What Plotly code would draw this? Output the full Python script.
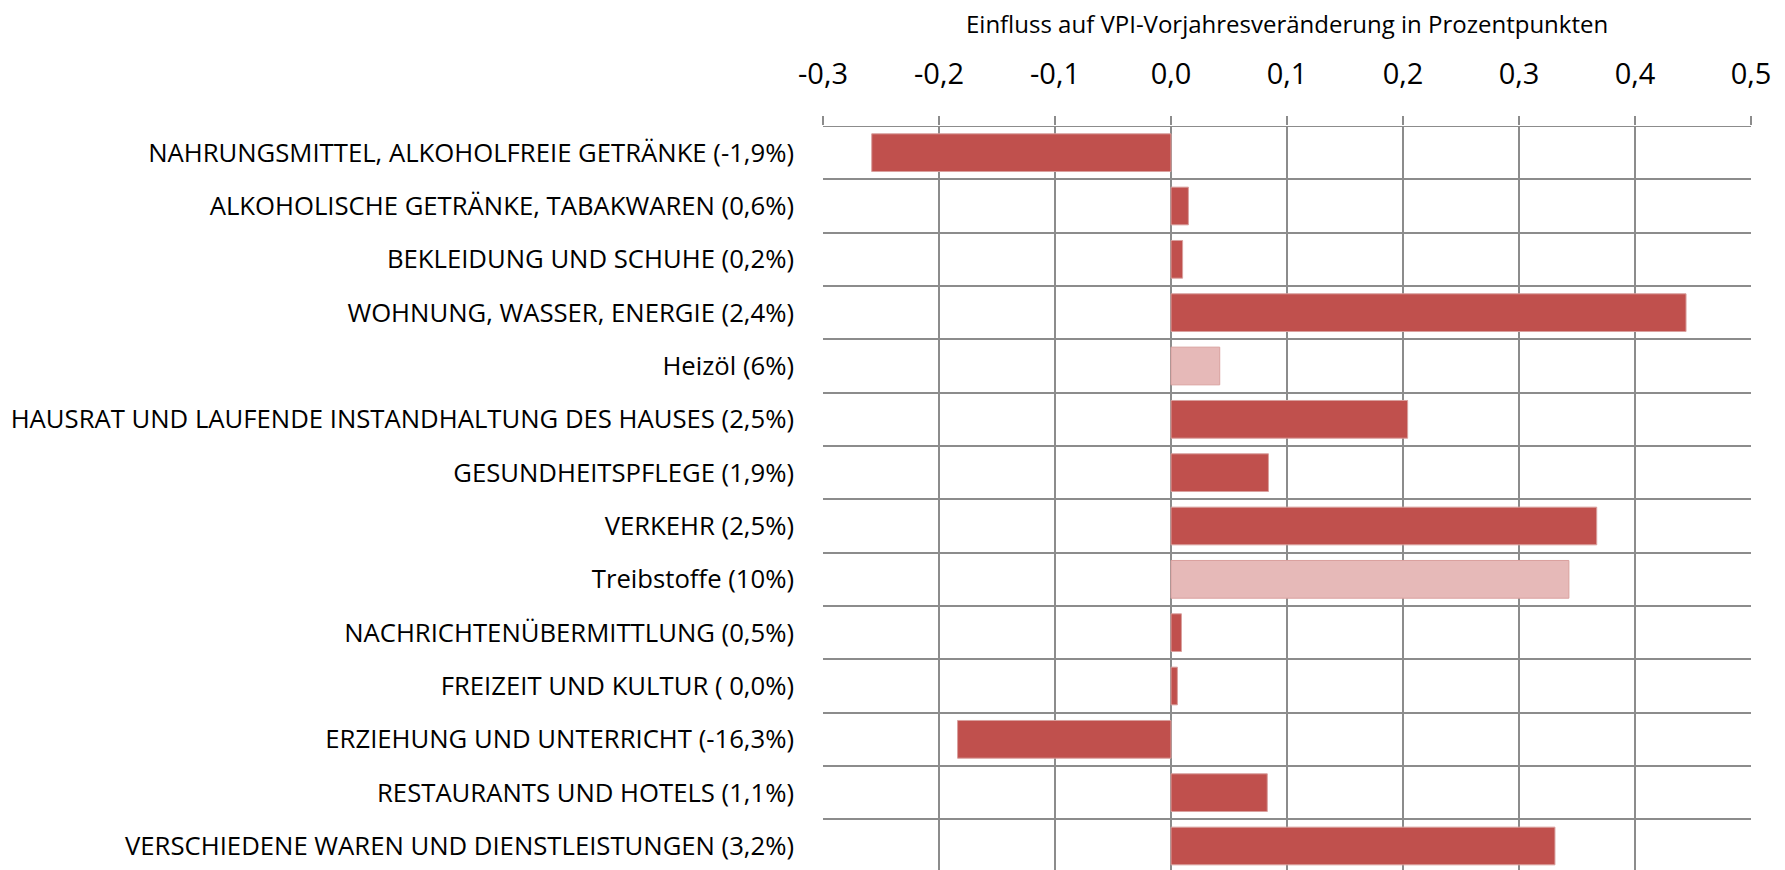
import plotly.graph_objects as go

categories = [
    "NAHRUNGSMITTEL, ALKOHOLFREIE GETRÄNKE (-1,9%)",
    "ALKOHOLISCHE GETRÄNKE, TABAKWAREN (0,6%)",
    "BEKLEIDUNG UND SCHUHE (0,2%)",
    "WOHNUNG, WASSER, ENERGIE (2,4%)",
    "Heizöl (6%)",
    "HAUSRAT UND LAUFENDE INSTANDHALTUNG DES HAUSES (2,5%)",
    "GESUNDHEITSPFLEGE (1,9%)",
    "VERKEHR (2,5%)",
    "Treibstoffe (10%)",
    "NACHRICHTENÜBERMITTLUNG (0,5%)",
    "FREIZEIT UND KULTUR ( 0,0%)",
    "ERZIEHUNG UND UNTERRICHT (-16,3%)",
    "RESTAURANTS UND HOTELS (1,1%)",
    "VERSCHIEDENE WAREN UND DIENSTLEISTUNGEN (3,2%)",
]
values = [-0.258, 0.015, 0.010, 0.444, 0.042, 0.204, 0.084, 0.367, 0.343,
          0.009, 0.0055, -0.184, 0.083, 0.331]
is_sub = [False, False, False, False, True, False, False, False, True,
          False, False, False, False, False]

tick_vals = [-0.3, -0.2, -0.1, 0.0, 0.1, 0.2, 0.3, 0.4, 0.5]
tick_text = ["-0,3", "-0,2", "-0,1", "0,0", "0,1", "0,2", "0,3", "0,4", "0,5"]
x_title = "Einfluss auf VPI-Vorjahresveränderung in Prozentpunkten"

MAIN = "#C0504D"
LIGHT = "#E6B9B8"
colors = [LIGHT if s else MAIN for s in is_sub]
FONT = "Open Sans"

fig = go.Figure(go.Bar(
    x=values, y=categories, orientation="h",
    marker=dict(color=colors, line=dict(color="#D9A09E", width=1)),
    width=0.707,
))

fig.update_layout(
    width=1785, height=870,
    margin=dict(l=823, r=34, t=126, b=0, autoexpand=False),
    paper_bgcolor="white", plot_bgcolor="white",
    showlegend=False,
    font=dict(family=FONT, color="black"),
    bargap=0.29,
)
fig.add_annotation(
    text=x_title, x=0.5, xref="paper", y=(870 - 23) / 744, yref="paper",
    xanchor="center", yanchor="middle", showarrow=False,
    font=dict(size=24, family=FONT, color="black"),
)
fig.update_xaxes(
    side="top", range=[-0.3, 0.5], tickvals=tick_vals, ticktext=tick_text,
    showgrid=True, gridcolor="#8C8C8C", gridwidth=2,
    ticks="outside", ticklen=9, tickwidth=2, tickcolor="#8C8C8C",
    tickfont=dict(size=29, family=FONT, color="black"),
    ticklabelstandoff=20, automargin=False,
    zeroline=False, showline=False,
)
fig.update_yaxes(
    type="category", categoryorder="array", categoryarray=categories,
    range=[13.45, -0.5], tickson="boundaries",
    showgrid=True, gridcolor="#8C8C8C", gridwidth=2,
    ticks="", tickfont=dict(size=25.7, family=FONT, color="black"),
    ticklabelstandoff=28, showline=False, zeroline=False, automargin=False,
)
fig.add_hline(y=-0.5, line=dict(color="#8C8C8C", width=2))

fig.write_html(
    "out.html",
    config={"displayModeBar": False},
    post_script="document.body.style.margin='0';document.body.style.overflow='hidden';",
)
